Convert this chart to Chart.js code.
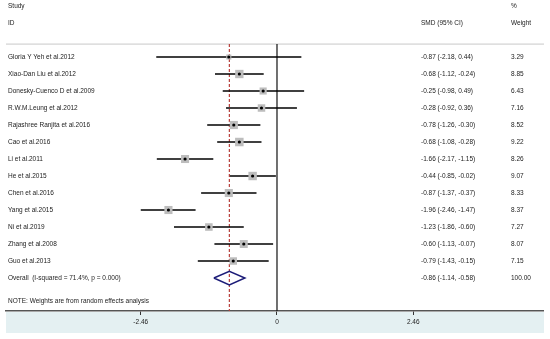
<!DOCTYPE html>
<html>
<head>
<meta charset="utf-8">
<script src="https://cdn.jsdelivr.net/npm/chart.js@4.4.1/dist/chart.umd.min.js"></script>
<style>
  html, body { margin: 0; padding: 0; background: #fff; }
  #wrap { width: 550px; height: 339px; }
</style>
</head>
<body>
<div id="wrap"><canvas id="forestPlot"></canvas></div>
<script>
const studies = [
  'Gloria Y Yeh et al.2012', 'Xiao-Dan Liu et al.2012', 'Donesky-Cuenco D et al.2009',
  'R.W.M.Leung et al.2012', 'Rajashree Ranjita et al.2016', 'Cao et al.2016',
  'Li et al.2011', 'He et al.2015', 'Chen et al.2016', 'Yang et al.2015',
  'Ni et al.2019', 'Zhang et al.2008', 'Guo et al.2013'
];
const smd = [-0.87, -0.68, -0.25, -0.28, -0.78, -0.68, -1.66, -0.44, -0.87, -1.96, -1.23, -0.60, -0.79];
const ciLow = [-2.18, -1.12, -0.98, -0.92, -1.26, -1.08, -2.17, -0.85, -1.37, -2.46, -1.86, -1.13, -1.43];
const ciHigh = [0.44, -0.24, 0.49, 0.36, -0.30, -0.28, -1.15, -0.02, -0.37, -1.47, -0.60, -0.07, -0.15];
const weights = [3.29, 8.85, 6.43, 7.16, 8.52, 9.22, 8.26, 9.07, 8.33, 8.37, 7.27, 8.07, 7.15];
const overall = [-0.86, -1.14, -0.58]; // estimate, low, high
const overallWeight = 100.00;
const overallLabel = 'Overall  (I-squared = 71.4%, p = 0.000)';
const noteText = 'NOTE: Weights are from random effects analysis';
const xTicks = [-2.46, 0, 2.46];

const overallRow = studies.length;
const fmt = v => v.toFixed(2);
const textFont = '6.5px "Liberation Sans", Arial, sans-serif';

// whisker for every study
const ciSets = studies.map((s, i) => ({
  type: 'scatter',
  showLine: true,
  data: [{ x: ciLow[i], y: i }, { x: ciHigh[i], y: i }],
  borderColor: '#000',
  borderWidth: 1.6,
  pointRadius: 0,
  order: 3
}));

const boxSet = {
  type: 'scatter',
  data: smd.map((v, i) => ({ x: v, y: i })),
  pointStyle: 'rect',
  backgroundColor: '#bdbdbd',
  borderWidth: 0,
  pointRadius: ctx => 2.8 * Math.sqrt(weights[ctx.dataIndex]) / Math.SQRT2,
  order: 2
};

const dotSet = {
  type: 'scatter',
  data: smd.map((v, i) => ({ x: v, y: i })),
  backgroundColor: '#000',
  borderWidth: 0,
  pointRadius: 1.6,
  order: 1
};

const diamondSet = {
  type: 'scatter',
  showLine: true,
  data: [
    { x: overall[1], y: overallRow },
    { x: overall[0], y: overallRow - 0.4 },
    { x: overall[2], y: overallRow },
    { x: overall[0], y: overallRow + 0.4 },
    { x: overall[1], y: overallRow }
  ],
  borderColor: '#1c1c78',
  borderWidth: 1.5,
  pointRadius: 0,
  order: 0
};

const sepRow = -0.76;

const forestDecor = {
  id: 'forestDecor',
  beforeDraw(chart) {
    const { ctx, chartArea: a } = chart;
    ctx.save();
    ctx.fillStyle = '#e4f0f2';
    ctx.fillRect(a.left, a.bottom + 1, a.right - a.left, 21);
    ctx.restore();
  },
  beforeDatasetsDraw(chart) {
    const { ctx, chartArea: a, scales: { x, y } } = chart;
    const top = y.getPixelForValue(sepRow);
    ctx.save();
    // separator under header
    ctx.strokeStyle = '#c8c8c8';
    ctx.lineWidth = 1;
    ctx.beginPath();
    ctx.moveTo(a.left, top);
    ctx.lineTo(a.right, top);
    ctx.stroke();
    // line of no effect
    ctx.strokeStyle = '#111';
    ctx.lineWidth = 1.2;
    ctx.beginPath();
    ctx.moveTo(x.getPixelForValue(0), top);
    ctx.lineTo(x.getPixelForValue(0), a.bottom);
    ctx.stroke();
    // overall estimate
    ctx.strokeStyle = '#b8403c';
    ctx.setLineDash([3, 2]);
    ctx.beginPath();
    ctx.moveTo(x.getPixelForValue(overall[0]), top);
    ctx.lineTo(x.getPixelForValue(overall[0]), a.bottom);
    ctx.stroke();
    ctx.restore();
  },
  afterDraw(chart) {
    const { ctx, scales: { y } } = chart;
    const colName = 8, colSmd = 421, colW = 511;
    ctx.save();
    ctx.font = textFont;
    ctx.fillStyle = '#222';
    ctx.textBaseline = 'middle';
    ctx.textAlign = 'left';
    const put = (t, xp, row) => ctx.fillText(t, xp, y.getPixelForValue(row));
    put('Study', colName, -3);
    put('ID', colName, -2);
    put('%', colW, -3);
    put('SMD (95% CI)', colSmd, -2);
    put('Weight', colW, -2);
    studies.forEach((s, i) => {
      put(s, colName, i);
      put(fmt(smd[i]) + ' (' + fmt(ciLow[i]) + ', ' + fmt(ciHigh[i]) + ')', colSmd, i);
      put(fmt(weights[i]), colW, i);
    });
    put(overallLabel, colName, overallRow);
    put(fmt(overall[0]) + ' (' + fmt(overall[1]) + ', ' + fmt(overall[2]) + ')', colSmd, overallRow);
    put(fmt(overallWeight), colW, overallRow);
    put(noteText, colName, 14.35);
    ctx.restore();
  }
};

new Chart(document.getElementById('forestPlot'), {
  type: 'scatter',
  data: { datasets: [...ciSets, boxSet, dotSet, diamondSet] },
  options: {
    responsive: true,
    maintainAspectRatio: false,
    animation: false,
    layout: { padding: { left: 2, right: 4, top: 0, bottom: 0 } },
    plugins: { legend: { display: false }, tooltip: { enabled: false } },
    scales: {
      x: {
        type: 'linear',
        min: -4.893,
        max: 4.821,
        afterBuildTicks: scale => { scale.ticks = xTicks.map(v => ({ value: v })); },
        afterFit: scale => { scale.height = 28; },
        grid: { drawOnChartArea: false, drawTicks: true, tickLength: 4, color: '#333' },
        border: { display: true, color: '#555', width: 1.5 },
        ticks: {
          font: { size: 6.5, family: '"Liberation Sans", Arial, sans-serif' },
          color: '#222',
          padding: 3,
          maxRotation: 0,
          callback: v => v === 0 ? '0' : fmt(v)
        }
      },
      y: {
        type: 'linear',
        reverse: true,
        min: -3.0,
        max: 14.94,
        display: false
      }
    }
  },
  plugins: [forestDecor]
});
</script>
</body>
</html>
